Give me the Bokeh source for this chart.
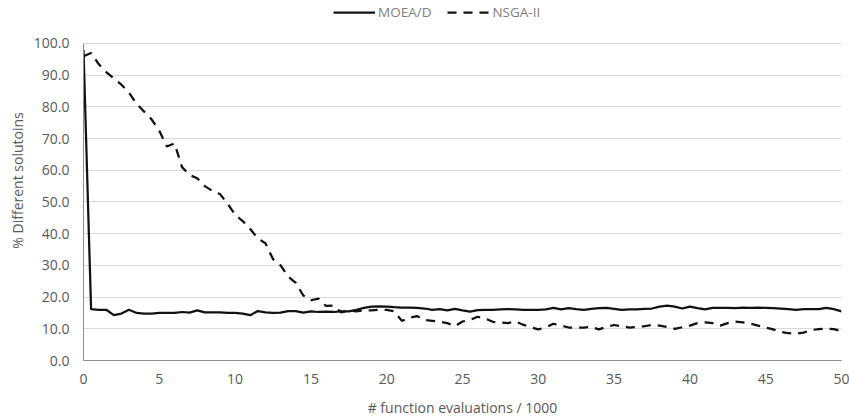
import numpy as np
from bokeh.plotting import figure
from bokeh.models import Legend, LegendItem, FixedTicker, Range1d, CustomJSTickFormatter
from bokeh.embed import file_html
from bokeh.resources import INLINE

x_values = np.arange(0, 50.01, 0.5)

moead = [98.0, 16.2, 16.0, 16.0, 14.3, 14.8, 16.0, 15.0, 14.8, 14.8,
         15.0, 15.0, 15.0, 15.3, 15.1, 15.8, 15.2, 15.2, 15.2, 15.0,
         15.0, 14.8, 14.3, 15.6, 15.2, 15.0, 15.1, 15.6, 15.6, 15.1,
         15.5, 15.3, 15.4, 15.3, 15.5, 15.5, 16.0, 16.6, 17.0, 17.1,
         17.0, 16.8, 16.7, 16.7, 16.6, 16.4, 16.0, 16.2, 15.8, 16.3,
         15.8, 15.4, 15.9, 16.0, 16.0, 16.1, 16.2, 16.1, 16.0, 16.0,
         16.0, 16.1, 16.6, 16.1, 16.5, 16.2, 16.0, 16.3, 16.5, 16.6,
         16.3, 16.0, 16.1, 16.1, 16.3, 16.4, 17.0, 17.3, 17.0, 16.4,
         17.0, 16.5, 16.1, 16.6, 16.6, 16.6, 16.5, 16.7, 16.6, 16.7,
         16.6, 16.5, 16.4, 16.2, 16.0, 16.2, 16.2, 16.2, 16.6, 16.2,
         15.5]

nsga2 = [96.0, 97.0, 93.5, 91.0, 89.0, 87.0, 84.5, 81.0, 78.5, 76.0,
         72.5, 67.5, 68.5, 61.0, 58.5, 57.5, 55.0, 53.5, 52.5, 49.5,
         46.0, 44.0, 41.5, 38.5, 37.0, 32.0, 30.0, 26.5, 24.5, 20.5,
         19.0, 19.5, 17.2, 17.3, 15.2, 15.8, 15.5, 15.8, 15.8, 16.0,
         16.0, 15.5, 12.5, 13.5, 14.0, 12.8, 12.5, 12.2, 11.8, 10.8,
         12.3, 12.8, 13.8, 13.2, 12.2, 12.0, 11.8, 12.3, 11.3, 10.5,
         9.8, 10.5, 11.6, 11.0, 10.4, 10.4, 10.4, 10.6, 9.8, 10.6,
         11.2, 10.8, 10.4, 10.6, 10.8, 11.2, 11.0, 10.6, 10.0, 10.5,
         11.0, 11.8, 12.0, 11.8, 11.0, 11.8, 12.3, 12.0, 11.6, 11.0,
         10.4, 9.8, 9.0, 8.6, 8.5, 8.8, 9.6, 9.9, 10.0, 9.9,
         9.2]

x_ticks = [0, 5, 10, 15, 20, 25, 30, 35, 40, 45, 50]
y_ticks = [0, 10, 20, 30, 40, 50, 60, 70, 80, 90, 100]
series_names = ["MOEA/D", "NSGA-II"]
x_label = "# function evaluations / 1000"
y_label = "% Different solutoins"

FONT = "Open Sans"
TXT = "#595959"

# frame spans the full height so the legend (drawn in the frame) is not clipped;
# the y range is extended above 100 to leave room for the legend row
p = figure(width=849, height=419, output_backend="svg", toolbar_location=None,
           x_range=Range1d(0, 50), y_range=Range1d(0, 113.56),
           min_border_left=83, min_border_right=8, min_border_top=0, min_border_bottom=59)
p.outline_line_color = None
p.background_fill_color = "white"
p.border_fill_color = "white"

r1 = p.line(x_values, moead, line_color="#111111", line_width=2.25)
r2 = p.line(x_values, nsga2, line_color="#111111", line_width=2.25, line_dash="9 7")

p.xaxis.ticker = FixedTicker(ticks=x_ticks)
p.yaxis.ticker = FixedTicker(ticks=y_ticks)
p.yaxis.formatter = CustomJSTickFormatter(code="return tick.toFixed(1);")
p.yaxis.bounds = (0, 100)

for ax in (p.xaxis, p.yaxis):
    ax.major_tick_line_color = None
    ax.minor_tick_line_color = None
    ax.major_tick_out = 0
    ax.major_tick_in = 0
    ax.axis_line_color = "#8c8c8c"
    ax.axis_line_width = 1
    ax.major_label_text_font = FONT
    ax.major_label_text_font_size = "14px"
    ax.major_label_text_color = TXT
    ax.axis_label_text_font = FONT
    ax.axis_label_text_font_size = "14px"
    ax.axis_label_text_color = TXT
    ax.axis_label_text_font_style = "normal"

p.yaxis.major_label_standoff = 14
p.xaxis.major_label_standoff = 13
p.xaxis.axis_label = x_label
p.yaxis.axis_label = y_label
p.xaxis.axis_label_standoff = 11
p.yaxis.axis_label_standoff = 4

p.xgrid.grid_line_color = None
p.ygrid.grid_line_color = "#d9d9d9"
p.ygrid.grid_line_width = 1

legend = Legend(items=[LegendItem(label=series_names[0], renderers=[r1]),
                       LegendItem(label=series_names[1], renderers=[r2])],
                orientation="horizontal", location=(250, 339))
legend.border_line_color = None
legend.background_fill_alpha = 0
legend.label_text_font = FONT
legend.label_text_font_size = "13.5px"
legend.label_text_color = "#808080"
legend.glyph_width = 42
legend.glyph_height = 14
legend.label_height = 14
legend.label_standoff = 3
legend.spacing = 16
legend.padding = 0
legend.margin = 0
p.add_layout(legend, "center")

open("out.html", "w").write(file_html(p, INLINE))
